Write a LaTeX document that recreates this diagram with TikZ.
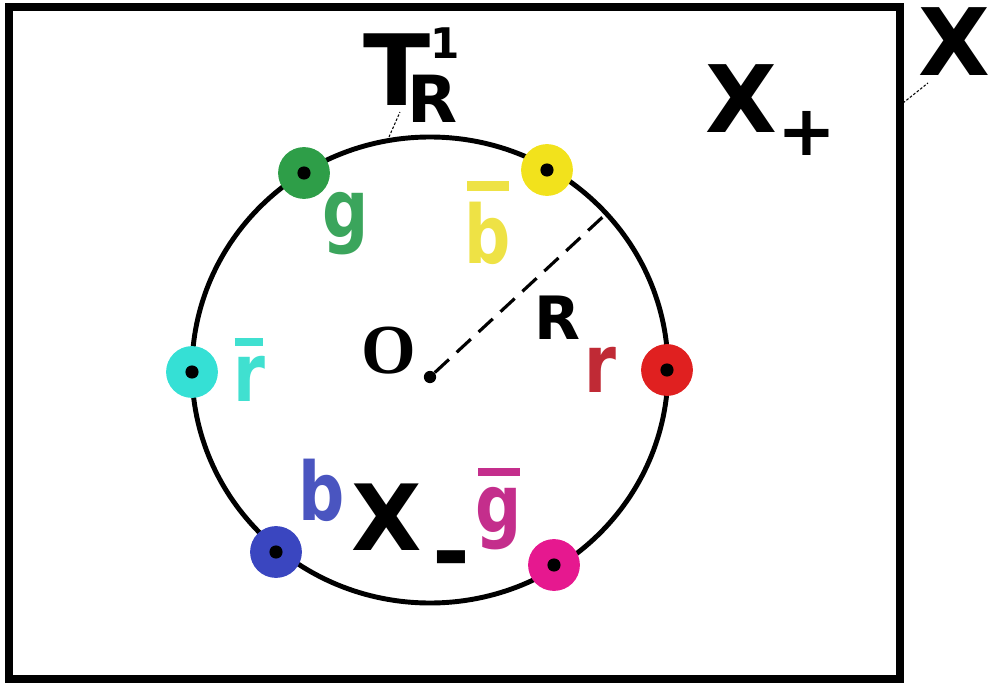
\documentclass[tikz,border=0pt]{standalone}
\usepackage{fontspec}
\setmainfont{DejaVu Sans}
\newfontfamily\serifbold{Liberation Serif}
\newfontfamily\letfont[FakeStretch=0.8]{DejaVu Sans}
\definecolor{cgreen}{HTML}{2E9E48}
\definecolor{cyellow}{HTML}{F2E21C}
\definecolor{ccyan}{HTML}{35E0D5}
\definecolor{cred}{HTML}{E02020}
\definecolor{cblue}{HTML}{3A46C0}
\definecolor{cmag}{HTML}{E6188F}
\definecolor{lgreen}{HTML}{3BA55C}
\definecolor{lyellow}{HTML}{EEE245}
\definecolor{lcyan}{HTML}{40E0D0}
\definecolor{lred}{HTML}{C02A35}
\definecolor{lblue}{HTML}{4A55C0}
\definecolor{lmag}{HTML}{C42E8C}
\newcommand{\barlet}[3]{\setbox0\hbox{#1}\vbox{\offinterlineskip\hbox to\wd0{\hss\rule{0.9\wd0}{#2}\hss}\vskip #3\box0}}
\tikzset{
  colordot/.style={circle, fill=#1, minimum size=29.5pt, inner sep=0pt},
  centerdot/.style={circle, fill=black, minimum size=7.5pt, inner sep=0pt},
  collabel/.style={text=#1, inner sep=0pt, font=\fontsize{46}{46}\selectfont\letfont\bfseries},
  bigx/.style={inner sep=0pt, anchor=base west, font=\fontsize{53}{53}\selectfont\bfseries},
  leader/.style={line width=0.6pt, dash pattern=on 1.5pt off 1pt},
}
\begin{document}
\begin{tikzpicture}[x=0.02cm, y=-0.02cm]
\useasboundingbox (0,0) rectangle (992,683);
% frame
\node[draw=black, line width=4.5pt, minimum width=17.82cm, minimum height=13.44cm, inner sep=0pt] (frame) at (454.5,343) {};
% circle
\draw[line width=2.8pt] (430,370) ellipse [x radius=238, y radius=233];
\coordinate (ctr) at (430,370);
% center O
\node[centerdot, minimum size=7pt] (o) at (430,377) {};
\node[inner sep=0pt, font=\fontsize{40}{40}\selectfont\serifbold\bfseries] (olab) at (389,351) {O};
% radius
\coordinate (rend) at (607,213);
\draw[line width=1.8pt, dash pattern=on 11pt off 6pt] (o) -- (rend);
\node[inner sep=0pt, font=\fontsize{34}{34}\selectfont\bfseries] (rlab) at (557,318) {R};
% colored dots
\node[colordot=cgreen] (dg) at (304,173) {};
\node[colordot=cyellow] (dyb) at (547,170) {};
\node[colordot=ccyan] (dcr) at (192,372) {};
\node[colordot=cred] (dr) at (667,370) {};
\node[colordot=cblue] (db) at (276,552) {};
\node[colordot=cmag] (dmg) at (554,565) {};
\foreach \d in {dg,dyb,dcr,dr,db,dmg} \node[centerdot] at (\d) {};
% colored labels
\node[collabel=lgreen] (lg) at (346,224) {g};
\node[collabel=lyellow] (lyb) at (488,223) {\barlet{b}{5.5pt}{6.8pt}};
\node[collabel=lcyan] (lcr) at (249,370) {\barlet{r}{4.5pt}{5.7pt}};
\node[collabel=lred] (lr) at (600,370) {r};
\node[collabel=lblue] (lb) at (322,490) {b};
\node[collabel=lmag] (lmg) at (499,509) {\barlet{g}{4.5pt}{6pt}};
% T_R^1
\node[inner sep=0pt, anchor=base west, font=\fontsize{56}{56}\selectfont\bfseries] (tlab) at (363,105)
  {T\kern0pt\rlap{\raisebox{26.6pt}{\fontsize{24}{24}\selectfont 1}}\kern-13pt\raisebox{-10pt}{\fontsize{37}{37}\selectfont R}};
\coordinate (tc) at (389,137);
\coordinate (tl) at (400,112);
\draw[leader] (tc) -- (tl);
% X labels
\node[bigx] (xall) at (918,75) {X};
\coordinate (xa) at (903,103);
\coordinate (xb) at (928,83);
\draw[leader] (xa) -- (xb);
\node[bigx] (xplus) at (705,132) {X\raisebox{-13.3pt}{\fontsize{40}{40}\selectfont +}};
\node[bigx, font=\fontsize{52}{52}\selectfont\bfseries] (xminus) at (351,550) {X\kern6pt\raisebox{-19pt}{-}};
\end{tikzpicture}
\end{document}
